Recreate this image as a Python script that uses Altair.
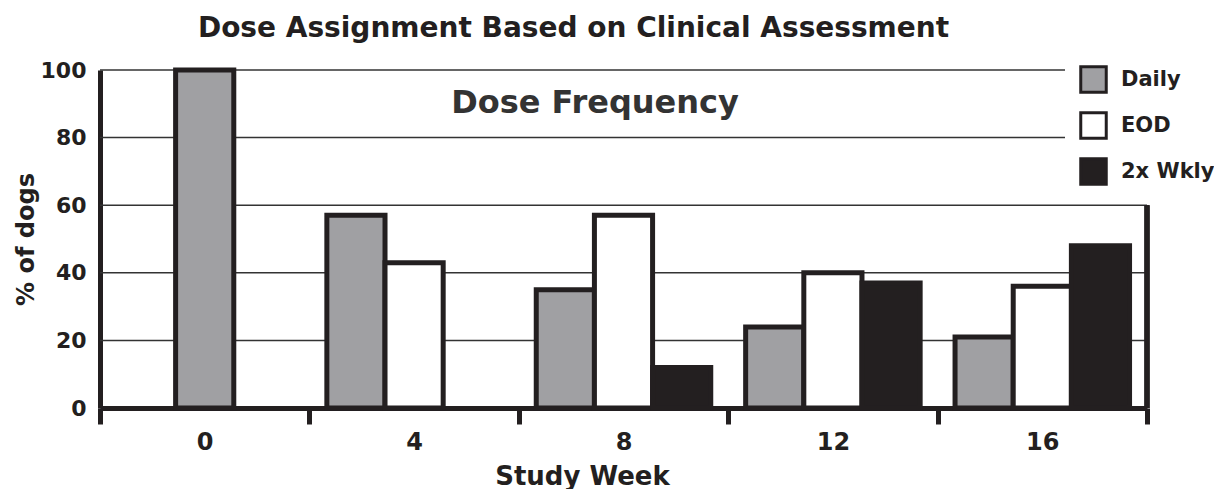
import altair as alt
import pandas as pd

weeks = ["0", "4", "8", "12", "16"]
series = ["Daily", "EOD", "2x Wkly"]
daily = [100, 57, 35, 24, 21]
eod = [None, 43, 57, 40, 36]
twice_weekly = [None, None, 12, 37, 48]
colors = ["#a0a0a3", "#ffffff", "#231f20"]

rows = []
for i, w in enumerate(weeks):
    for s, vals in zip(series, [daily, eod, twice_weekly]):
        if vals[i] is not None:
            rows.append({"week": w, "series": s, "pct": vals[i]})
df = pd.DataFrame(rows)

W, H = 1047, 338
FONT = "DejaVu Sans"
INK = "#231f20"

x_enc = alt.X(
    "week:N",
    sort=weeks,
    scale=alt.Scale(paddingInner=0, paddingOuter=0),
    axis=alt.Axis(
        title="Study Week",
        labelAngle=0,
        tickBand="extent",
        tickSize=16,
        tickWidth=5,
        tickColor=INK,
        domainWidth=5,
        domainColor=INK,
        labelFont=FONT,
        labelFontSize=24,
        labelFontWeight="bold",
        labelColor=INK,
        labelPadding=6,
        titleFont=FONT,
        titleFontSize=26,
        titleFontWeight="bold",
        titleColor=INK,
        titlePadding=9,
        titleX=482,
        titleAnchor="start",
        titleAlign="center",
        grid=False,
    ),
)

y_scale = alt.Scale(domain=[0, 100], nice=False)

bars = (
    alt.Chart(df)
    .transform_calculate(slot="datum.week == '0' ? 'EOD' : datum.series")
    .mark_bar(stroke=INK, strokeWidth=5, strokeJoin="miter")
    .encode(
        x=x_enc,
        xOffset=alt.XOffset(
            "slot:N",
            scale=alt.Scale(domain=series, paddingInner=0, paddingOuter=0.3),
        ),
        y=alt.Y(
            "pct:Q",
            scale=y_scale,
            axis=alt.Axis(
                title="% of dogs",
                values=[0, 20, 40, 60, 80, 100],
                ticks=False,
                grid=False,
                domainWidth=5,
                domainColor=INK,
                labelFont=FONT,
                labelFontSize=22,
                labelFontWeight="bold",
                labelColor=INK,
                labelPadding=14,
                titleFont=FONT,
                titleFontSize=24,
                titleFontWeight="bold",
                titleColor=INK,
                titlePadding=2,
            ),
        ),
        fill=alt.Fill(
            "series:N",
            scale=alt.Scale(domain=series, range=colors),
            legend=alt.Legend(
                title=None,
                orient="none",
                legendX=979,
                legendY=-5,
                symbolType="square",
                symbolSize=650,
                symbolStrokeColor=INK,
                symbolStrokeWidth=3,
                symbolOpacity=1,
                labelFont=FONT,
                labelFontSize=21,
                labelFontWeight="bold",
                labelColor=INK,
                labelOffset=13,
                rowPadding=7,
                padding=0,
            ),
        ),
    )
)

grid_low = pd.DataFrame({"g": [20, 40, 60]})
grid_high = pd.DataFrame({"g": [80, 100]})

rule_low = alt.Chart(grid_low).mark_rule(color="#333333", strokeWidth=1.5).encode(
    y=alt.Y("g:Q", scale=y_scale), x=alt.value(0), x2=alt.value(W)
)
rule_high = alt.Chart(grid_high).mark_rule(color="#333333", strokeWidth=1.5).encode(
    y=alt.Y("g:Q", scale=y_scale), x=alt.value(0), x2=alt.value(W - 82)
)
right_border = alt.Chart(grid_low).mark_rule(color=INK, strokeWidth=5).encode(
    x=alt.value(W), y=alt.datum(0), y2=alt.datum(60)
)

label = alt.Chart(pd.DataFrame({"t": ["Dose Frequency"]})).mark_text(
    font=FONT, fontSize=32, fontWeight="bold", color="#333333"
).encode(text="t:N", x=alt.value(495), y=alt.value(33))

chart = (
    alt.layer(rule_low, rule_high, right_border, bars, label)
    .properties(
        width=W,
        height=H,
        title=alt.TitleParams(
            "Dose Assignment Based on Clinical Assessment",
            font=FONT,
            fontSize=28,
            fontWeight="bold",
            color=INK,
            anchor="middle",
            dx=-50,
            offset=16,
        ),
        autosize=alt.AutoSizeParams(type="none"),
        padding={"left": 92, "top": 62, "right": 67, "bottom": 81},
    )
    .configure_view(stroke=None)
)

chart.save("out.html", embed_options={"renderer": "svg", "actions": False})
